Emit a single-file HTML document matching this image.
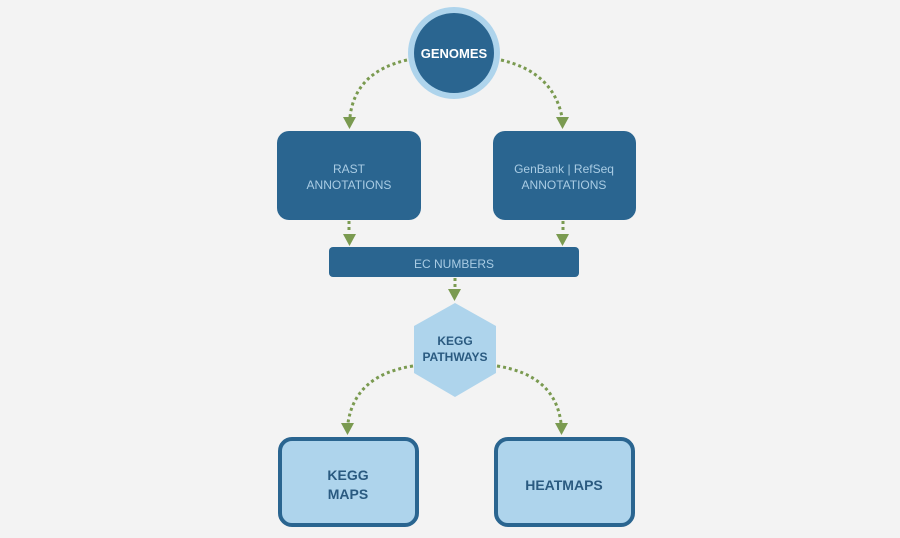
<!DOCTYPE html>
<html><head><style>
body{margin:0;background:#f3f3f3;}
svg{display:block}
text{font-family:"Liberation Sans",sans-serif;text-anchor:middle}
</style></head><body>
<svg width="900" height="538" viewBox="0 0 900 538">
<rect width="900" height="538" fill="#f3f3f3"/>
<g fill="none" stroke="#7a9a50" stroke-width="3" stroke-dasharray="3 3">
<path d="M407 60 Q355 72 350 117"/>
<path d="M501 60 Q553 72 562 117"/>
<path d="M349 221 V233"/>
<path d="M563 221 V233"/>
<path d="M455 278 V289"/>
<path d="M413 366 Q355 375 348 423"/>
<path d="M497 366 Q555 375 561 423"/>
</g>
<g fill="#7a9a50">
<polygon points="343,117 356,117 349.5,129"/>
<polygon points="556,117 569,117 562.5,129"/>
<polygon points="343,234 356,234 349.5,246"/>
<polygon points="556,234 569,234 562.5,246"/>
<polygon points="448,289 461,289 454.5,301"/>
<polygon points="341,423 354,423 347.5,435"/>
<polygon points="555,423 568,423 561.5,435"/>
</g>
<circle cx="454" cy="53" r="46" fill="#aed4ec"/>
<circle cx="454" cy="53" r="40" fill="#2a6590"/>
<text x="454" y="58" fill="#fff" font-size="13" font-weight="bold">GENOMES</text>
<rect x="277" y="131" width="144" height="89" rx="12" fill="#2a6590"/>
<text x="349" y="173" fill="#a9cce4" font-size="12">RAST</text>
<text x="349" y="189" fill="#a9cce4" font-size="12">ANNOTATIONS</text>
<rect x="493" y="131" width="143" height="89" rx="12" fill="#2a6590"/>
<text x="564" y="173" fill="#a9cce4" font-size="12">GenBank | RefSeq</text>
<text x="564" y="189" fill="#a9cce4" font-size="12">ANNOTATIONS</text>
<rect x="329" y="247" width="250" height="30" rx="4" fill="#2a6590"/>
<text x="454" y="268" fill="#a9cce4" font-size="12">EC NUMBERS</text>
<polygon points="455,303 496,326 496,373 455,397 414,373 414,326" fill="#aed4ec"/>
<text x="455" y="345" fill="#2a5a80" font-size="12" font-weight="bold">KEGG</text>
<text x="455" y="361" fill="#2a5a80" font-size="12" font-weight="bold">PATHWAYS</text>
<rect x="280" y="439" width="137" height="86" rx="12" fill="#aed4ec" stroke="#2a6590" stroke-width="4"/>
<text x="348" y="480" fill="#2a5a80" font-size="14" font-weight="bold">KEGG</text>
<text x="348" y="499" fill="#2a5a80" font-size="14" font-weight="bold">MAPS</text>
<rect x="496" y="439" width="137" height="86" rx="12" fill="#aed4ec" stroke="#2a6590" stroke-width="4"/>
<text x="564" y="490" fill="#2a5a80" font-size="14" font-weight="bold">HEATMAPS</text>
</svg>
</body></html>
